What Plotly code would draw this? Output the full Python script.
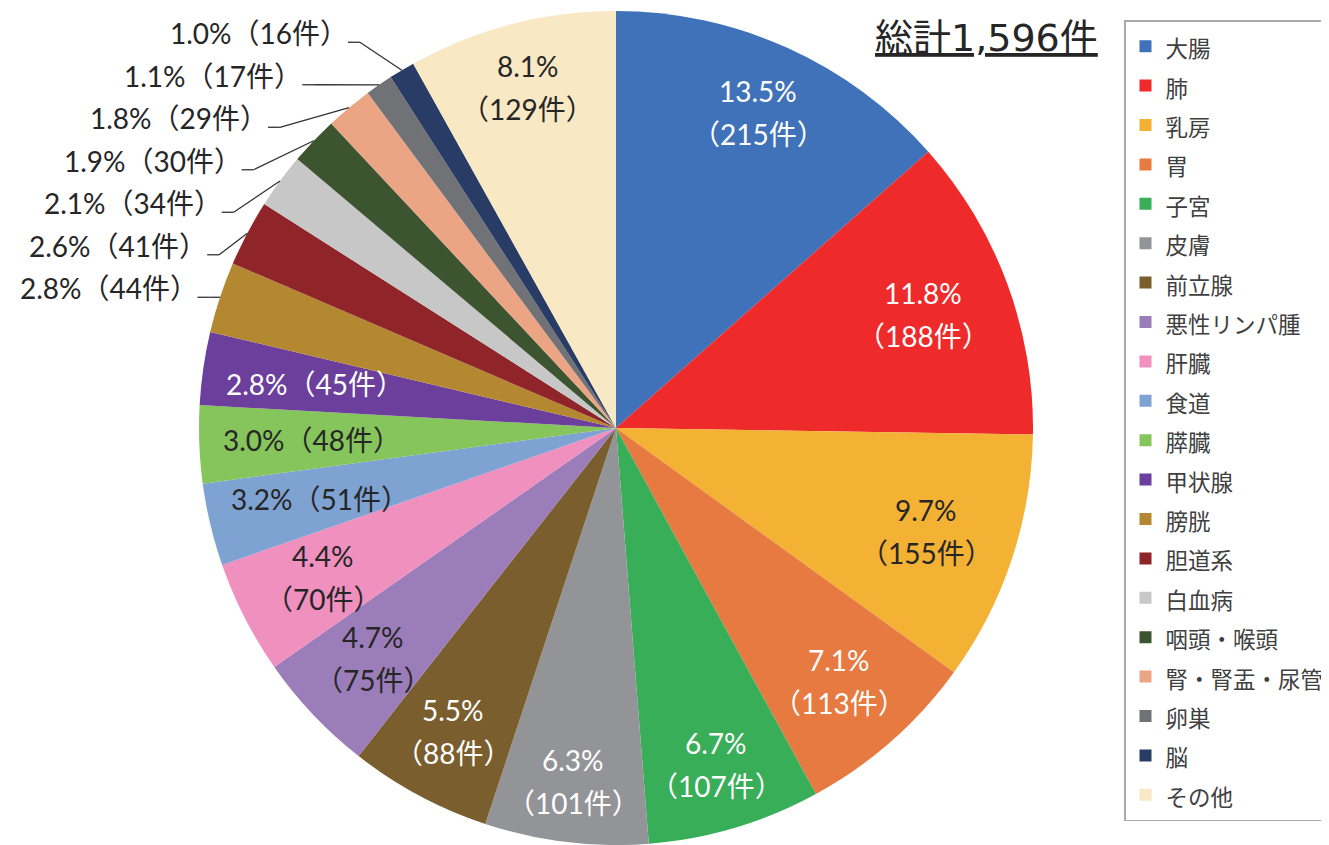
import math
import plotly.graph_objects as go

# ---------------- data ----------------
labels = ["大腸", "肺", "乳房", "胃", "子宮", "皮膚", "前立腺", "悪性リンパ腫", "肝臓", "食道",
          "膵臓", "甲状腺", "膀胱", "胆道系", "白血病", "咽頭・喉頭", "腎・腎盂・尿管", "卵巣", "脳", "その他"]
counts = [215, 188, 155, 113, 107, 101, 88, 75, 70, 51,
          48, 45, 44, 41, 34, 30, 29, 17, 16, 129]
total_text = "総計1,596件"

# ---------------- style ----------------
colors = ["#3F72B9", "#EE2A2A", "#F4B235", "#E67A40", "#37AE57", "#939497", "#7A5E2E", "#9B7DBA",
          "#EF90BF", "#7EA3D2", "#86C45C", "#6B3F9B", "#B38830", "#8F2429", "#C8C7C8", "#3C5530",
          "#EBA584", "#707276", "#293C66", "#F8E8C4"]
DARK = "#262626"
WHITE = "#FFFFFF"
label_colors = [WHITE, WHITE, DARK, WHITE, WHITE, WHITE, WHITE, DARK, DARK, DARK,
                DARK, WHITE, DARK, DARK, DARK, DARK, DARK, DARK, DARK, DARK]
LABEL_FONT = "Lato, 'Noto Sans CJK JP', sans-serif"
JP_FONT = "'Noto Sans CJK JP', sans-serif"
LABEL_SIZE = 28

# page geometry (the html body has an 8px margin)
OFF = 8
SW, SH = 1329, 845
FW, FH = SW - OFF, SH - OFF
CX, CY, R = 616, 428, 417   # pie centre / radius in screen pixels

total = sum(counts)


def paper(x, y):
    return (x - OFF) / FW, 1 - (y - OFF) / FH


def point(theta, r):
    return CX + r * math.sin(theta), CY - r * math.cos(theta)


dx0, _ = paper(CX - R, 0)
dx1, _ = paper(CX + R, 0)
_, dy0 = paper(0, CY + R)
_, dy1 = paper(0, CY - R)

legend_labels = [f'<span style="font-size:22.5px">{l}</span>' for l in labels]

fig = go.Figure()
fig.add_trace(go.Pie(
    labels=legend_labels,
    values=counts,
    sort=False,
    direction="clockwise",
    rotation=0,
    marker=dict(colors=colors, line=dict(width=0)),
    textinfo="none",
    hoverinfo="value+percent",
    domain=dict(x=[dx0, dx1], y=[max(dy0, 0), min(dy1, 1)]),
))

annotations = []
shapes = []

cum = 0
mids = []
for c in counts:
    mids.append((cum + c / 2) / total * 2 * math.pi)
    cum += c

outside_k = 0
base_y = None
for i, c in enumerate(counts):
    pct = f"{c / total * 100:.1f}%"
    cnt = f"（{c}件）"
    th = mids[i]
    col = label_colors[i]
    if c >= 70:
        x, y = point(th, R * (0.865 - 0.085 * abs(math.sin(th))))
        for txt, dy in ((pct, -21.5), (cnt, 21.5)):
            px, py = paper(x, y + dy)
            annotations.append(dict(x=px, y=py, xref="paper", yref="paper", text=txt, showarrow=False,
                                    xanchor="center", yanchor="middle",
                                    font=dict(family=LABEL_FONT, size=LABEL_SIZE, color=col)))
    elif c >= 45:
        x, y = point(th, 0.73 * R)
        px, py = paper(x, y)
        annotations.append(dict(x=px, y=py, xref="paper", yref="paper", text=pct + cnt, showarrow=False,
                                xanchor="center", yanchor="middle",
                                font=dict(family=LABEL_FONT, size=LABEL_SIZE, color=col)))
    else:
        ex, ey = point(th, R)
        if base_y is None:
            base_y = ey
        line_y = base_y - 42.5 * outside_k
        rad = R + 10 + 6 * outside_k
        elbow_x = CX - math.sqrt(rad ** 2 - (line_y - CY) ** 2)
        start_x = elbow_x - 12
        for (x0, y0, x1, y1) in ((start_x, line_y, elbow_x, line_y), (elbow_x, line_y, ex, ey)):
            a0, b0 = paper(x0, y0)
            a1, b1 = paper(x1, y1)
            shapes.append(dict(type="line", xref="paper", yref="paper", x0=a0, y0=b0, x1=a1, y1=b1,
                               line=dict(color="#333333", width=1.3)))
        px, py = paper(start_x + 2, line_y - 9)
        annotations.append(dict(x=px, y=py, xref="paper", yref="paper", text=pct + cnt, showarrow=False,
                                xanchor="right", yanchor="middle",
                                font=dict(family=LABEL_FONT, size=LABEL_SIZE, color=col)))
        outside_k += 1

tx, ty = paper(986, 38)
annotations.append(dict(x=tx, y=ty, xref="paper", yref="paper", text=f"<u>{total_text}</u>",
                        showarrow=False, xanchor="center", yanchor="middle",
                        font=dict(family="'DejaVu Sans', 'Noto Sans CJK JP', sans-serif", size=38, color=DARK)))

lx, ly = paper(1124, 20)
fig.update_layout(
    width=FW, height=FH,
    margin=dict(l=0, r=0, t=0, b=0, autoexpand=False),
    paper_bgcolor="white",
    plot_bgcolor="white",
    showlegend=True,
    legend=dict(x=lx, y=ly, xanchor="left", yanchor="top",
                bordercolor="#AAAAAA", borderwidth=1.5, bgcolor="white",
                font=dict(family=JP_FONT, size=28, color="#404040")),
    annotations=annotations,
    shapes=shapes,
)

fig.write_html("out.html")
